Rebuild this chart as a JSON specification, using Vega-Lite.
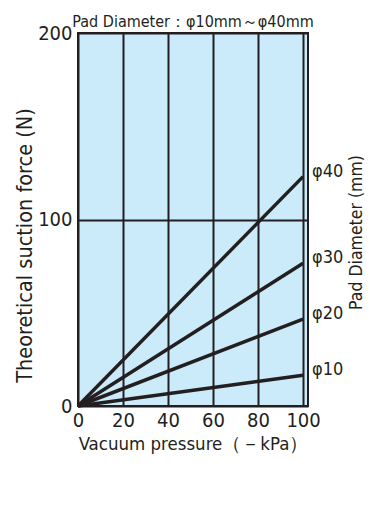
{
  "$schema": "https://vega.github.io/schema/vega-lite/v6.json",
  "autosize": "none",
  "width": 230,
  "height": 373,
  "padding": {"left": 78, "top": 33, "right": 62, "bottom": 100},
  "background": "white",
  "config": {
    "font": "'DejaVu Sans Condensed', 'Liberation Sans', sans-serif",
    "view": {"fill": "#CCEBFA", "stroke": "#231F20", "strokeWidth": 2}
  },
  "title": {
    "text": "Pad Diameter：φ10mm～φ40mm",
    "fontSize": 16,
    "fontWeight": "normal",
    "color": "#231F20",
    "anchor": "middle",
    "frame": "group",
    "baseline": "alphabetic",
    "offset": -20
  },
  "data": {
    "values": [
      {"d": "φ40", "p": 0, "f": 0}, {"d": "φ40", "p": 100, "f": 123},
      {"d": "φ30", "p": 0, "f": 0}, {"d": "φ30", "p": 100, "f": 76.5},
      {"d": "φ20", "p": 0, "f": 0}, {"d": "φ20", "p": 100, "f": 46.6},
      {"d": "φ10", "p": 0, "f": 0}, {"d": "φ10", "p": 100, "f": 16.5}
    ]
  },
  "layer": [
    {
      "encoding": {
        "x": {
          "field": "p", "type": "quantitative",
          "scale": {"domain": [0, 102.2], "nice": false, "zero": false},
          "axis": {
            "values": [0, 20, 40, 60, 80, 100],
            "title": "Vacuum pressure（－kPa）",
            "titleFontSize": 18.5, "titleFontWeight": "normal", "titleColor": "#231F20",
            "titleBaseline": "alphabetic", "titleY": 43,
            "labelFontSize": 20, "labelColor": "#231F20", "labelPadding": 4,
            "labelBaseline": "top", "labelFlush": false,
            "ticks": false, "domain": false,
            "grid": true, "gridColor": "#231F20", "gridWidth": 2, "gridOpacity": 1
          }
        },
        "y": {
          "field": "f", "type": "quantitative",
          "scale": {"domain": [0, 200], "nice": false},
          "axis": {
            "values": [0, 100, 200],
            "title": "Theoretical suction force (N)",
            "titleFontSize": 21.5, "titleFontWeight": "normal", "titleColor": "#231F20",
            "titleBaseline": "alphabetic", "titleX": -47, "titleY": 212,
            "labelFontSize": 20, "labelColor": "#231F20", "labelPadding": 6,
            "labelFlush": false,
            "ticks": false, "domain": false,
            "grid": true, "gridColor": "#231F20", "gridWidth": 2, "gridOpacity": 1
          }
        }
      },
      "layer": [
        {
          "mark": {"type": "line", "color": "#231F20", "strokeWidth": 3.5},
          "encoding": {"detail": {"field": "d", "type": "nominal"}}
        },
        {
          "transform": [{"filter": "datum.p == 100"}],
          "mark": {"type": "text", "align": "left", "baseline": "middle", "dx": 9, "dy": -5, "fontSize": 18, "color": "#231F20"},
          "encoding": {"text": {"field": "d", "type": "nominal"}}
        }
      ]
    },
    {
      "mark": {"type": "rule", "opacity": 0},
      "encoding": {
        "y": {
          "field": "f", "type": "quantitative",
          "scale": {"domain": [0, 200], "nice": false},
          "axis": {
            "orient": "right",
            "title": "Pad Diameter (mm)",
            "titleFontSize": 17.5, "titleFontWeight": "normal", "titleColor": "#231F20",
            "titleAngle": -90, "titleBaseline": "alphabetic", "titleX": 53, "titleY": 199,
            "labels": false, "ticks": false, "domain": false, "grid": false
          }
        }
      }
    }
  ],
  "resolve": {"scale": {"y": "independent"}, "axis": {"y": "independent"}}
}
